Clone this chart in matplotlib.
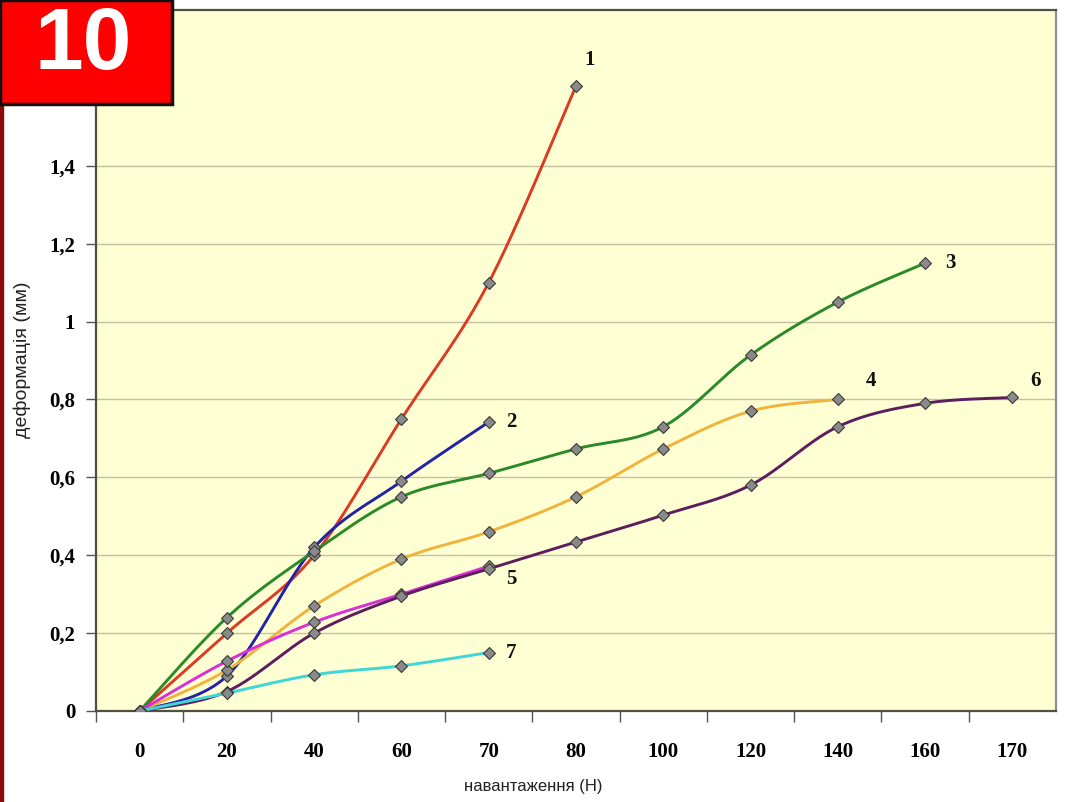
import numpy as np
import matplotlib
matplotlib.use('Agg')
import matplotlib.pyplot as plt
from matplotlib.patches import Rectangle

# load categories (equally spaced on the axis)
loads = ['0', '20', '40', '60', '70', '80', '100', '120', '140', '160', '170']

# deformation values for each curve (index into loads)
s1 = [0, 0.20, 0.40, 0.75, 1.10, 1.605]
s2 = [0, 0.09, 0.42, 0.59, 0.742]
s3 = [0, 0.24, 0.41, 0.55, 0.61, 0.673, 0.73, 0.914, 1.05, 1.15]
s4 = [0, 0.105, 0.27, 0.39, 0.46, 0.55, 0.673, 0.77, 0.80]
s5 = [0, 0.128, 0.228, 0.30, 0.372]
s6 = [0, 0.05, 0.20, 0.295, 0.365, 0.434, 0.503, 0.58, 0.73, 0.79, 0.805]
s7 = [0, 0.046, 0.093, 0.116, 0.15]

series = [s1, s2, s3, s4, s5, s6, s7]
names = ['1', '2', '3', '4', '5', '6', '7']
colors = ['#DC3A22', '#2323A8', '#2A8A2A', '#F0B43C', '#D92ED9', '#5E1E5E', '#3FD6D6']
# label offsets in points
offsets = [(10, 19), (16, 0), (18, 0), (24, 13), (16, -9), (17, 12), (16, 0)]


def smooth(xs, ys, n=30):
    # Excel-like smoothed line (Bezier through points)
    p = np.column_stack([xs, ys]).astype(float)
    if len(p) < 3:
        return p[:, 0], p[:, 1]
    ext = np.vstack([p[0], p, p[-1]])
    out = []
    t = np.linspace(0, 1, n)[:, None]
    for i in range(len(p) - 1):
        p0, p1, p2, p3 = ext[i], ext[i + 1], ext[i + 2], ext[i + 3]
        c1 = p1 + (p2 - p0) / 6
        c2 = p2 - (p3 - p1) / 6
        seg = ((1 - t) ** 3) * p1 + 3 * ((1 - t) ** 2) * t * c1 + 3 * (1 - t) * t ** 2 * c2 + t ** 3 * p2
        out.append(seg if i == 0 else seg[1:])
    out = np.vstack(out)
    return out[:, 0], out[:, 1]


fig = plt.figure(figsize=(10.82, 8.02), dpi=100)
ax = fig.add_axes([96 / 1082, 1 - 711 / 802, (1056 - 96) / 1082, (711 - 10) / 802])
ax.set_facecolor('#FFFFD4')

for ys, c, name, off in zip(series, colors, names, offsets):
    xs = np.arange(len(ys))
    sx, sy = smooth(xs, ys)
    ax.plot(sx, sy, color=c, lw=2.1, zorder=3)
    ax.plot(xs, ys, ls='none', marker='D', ms=6, mfc='#8A8A8A', mec='#3A3A3A', mew=0.8, zorder=4)
    ax.annotate(name, (xs[-1], ys[-1]), xytext=off, textcoords='offset points',
                ha='center', va='center', fontsize=15, fontweight='bold',
                family='Liberation Serif', color='#111111')

ax.set_xlim(-0.5, len(loads) - 0.5)
ax.set_ylim(0, 1.8)
ax.set_xticks(np.arange(len(loads)))
ax.set_xticklabels(loads, fontsize=15, fontweight='bold', family='Liberation Serif')
ax.set_xticks(np.arange(len(loads)) - 0.5, minor=True)
ax.tick_params(axis='x', which='major', length=0, pad=22)
ax.tick_params(axis='x', which='minor', length=8, width=1, color='#555555', direction='out')

yt = [0, 0.2, 0.4, 0.6, 0.8, 1.0, 1.2, 1.4]
ax.set_yticks(yt)
ax.set_yticklabels(['0', '0,2', '0,4', '0,6', '0,8', '1', '1,2', '1,4'],
                   fontsize=15, fontweight='bold', family='Liberation Serif')
ax.tick_params(axis='y', length=7, width=1, color='#555555', pad=8)
ax.grid(axis='y', color='#C4C0A4', lw=1)
ax.set_axisbelow(True)

for side in ['left', 'bottom', 'top']:
    ax.spines[side].set_color('#505040')
    ax.spines[side].set_linewidth(1.6)
ax.spines['right'].set_color('#909090')
ax.spines['right'].set_linewidth(1.6)

fig.text(533 / 1082, 1 - 787 / 802, 'навантаження (Н)', ha='center', va='center',
         fontsize=12, family='Liberation Sans', color='#222222')
fig.text(22 / 1082, 1 - 360 / 802, 'деформація (мм)', ha='center', va='center',
         rotation=90, fontsize=14, family='Liberation Sans', color='#222222')

# dark red strip on the left edge and the red number box
fig.patches.append(Rectangle((0, 0), 3 / 1082, 1 - 104 / 802, transform=fig.transFigure,
                             color='#8B0A0A', zorder=5))
fig.patches.append(Rectangle((0, 1 - 104 / 802), 172 / 1082, 104 / 802, transform=fig.transFigure,
                             facecolor='#FF0000', edgecolor='#111111', lw=2.5, zorder=6))
fig.text(83 / 1082, 1 - 47 / 802, '10', ha='center', va='center', fontsize=63,
         fontweight='bold', family='Liberation Sans', color='white', zorder=7)

fig.savefig('out.png', dpi=100)
